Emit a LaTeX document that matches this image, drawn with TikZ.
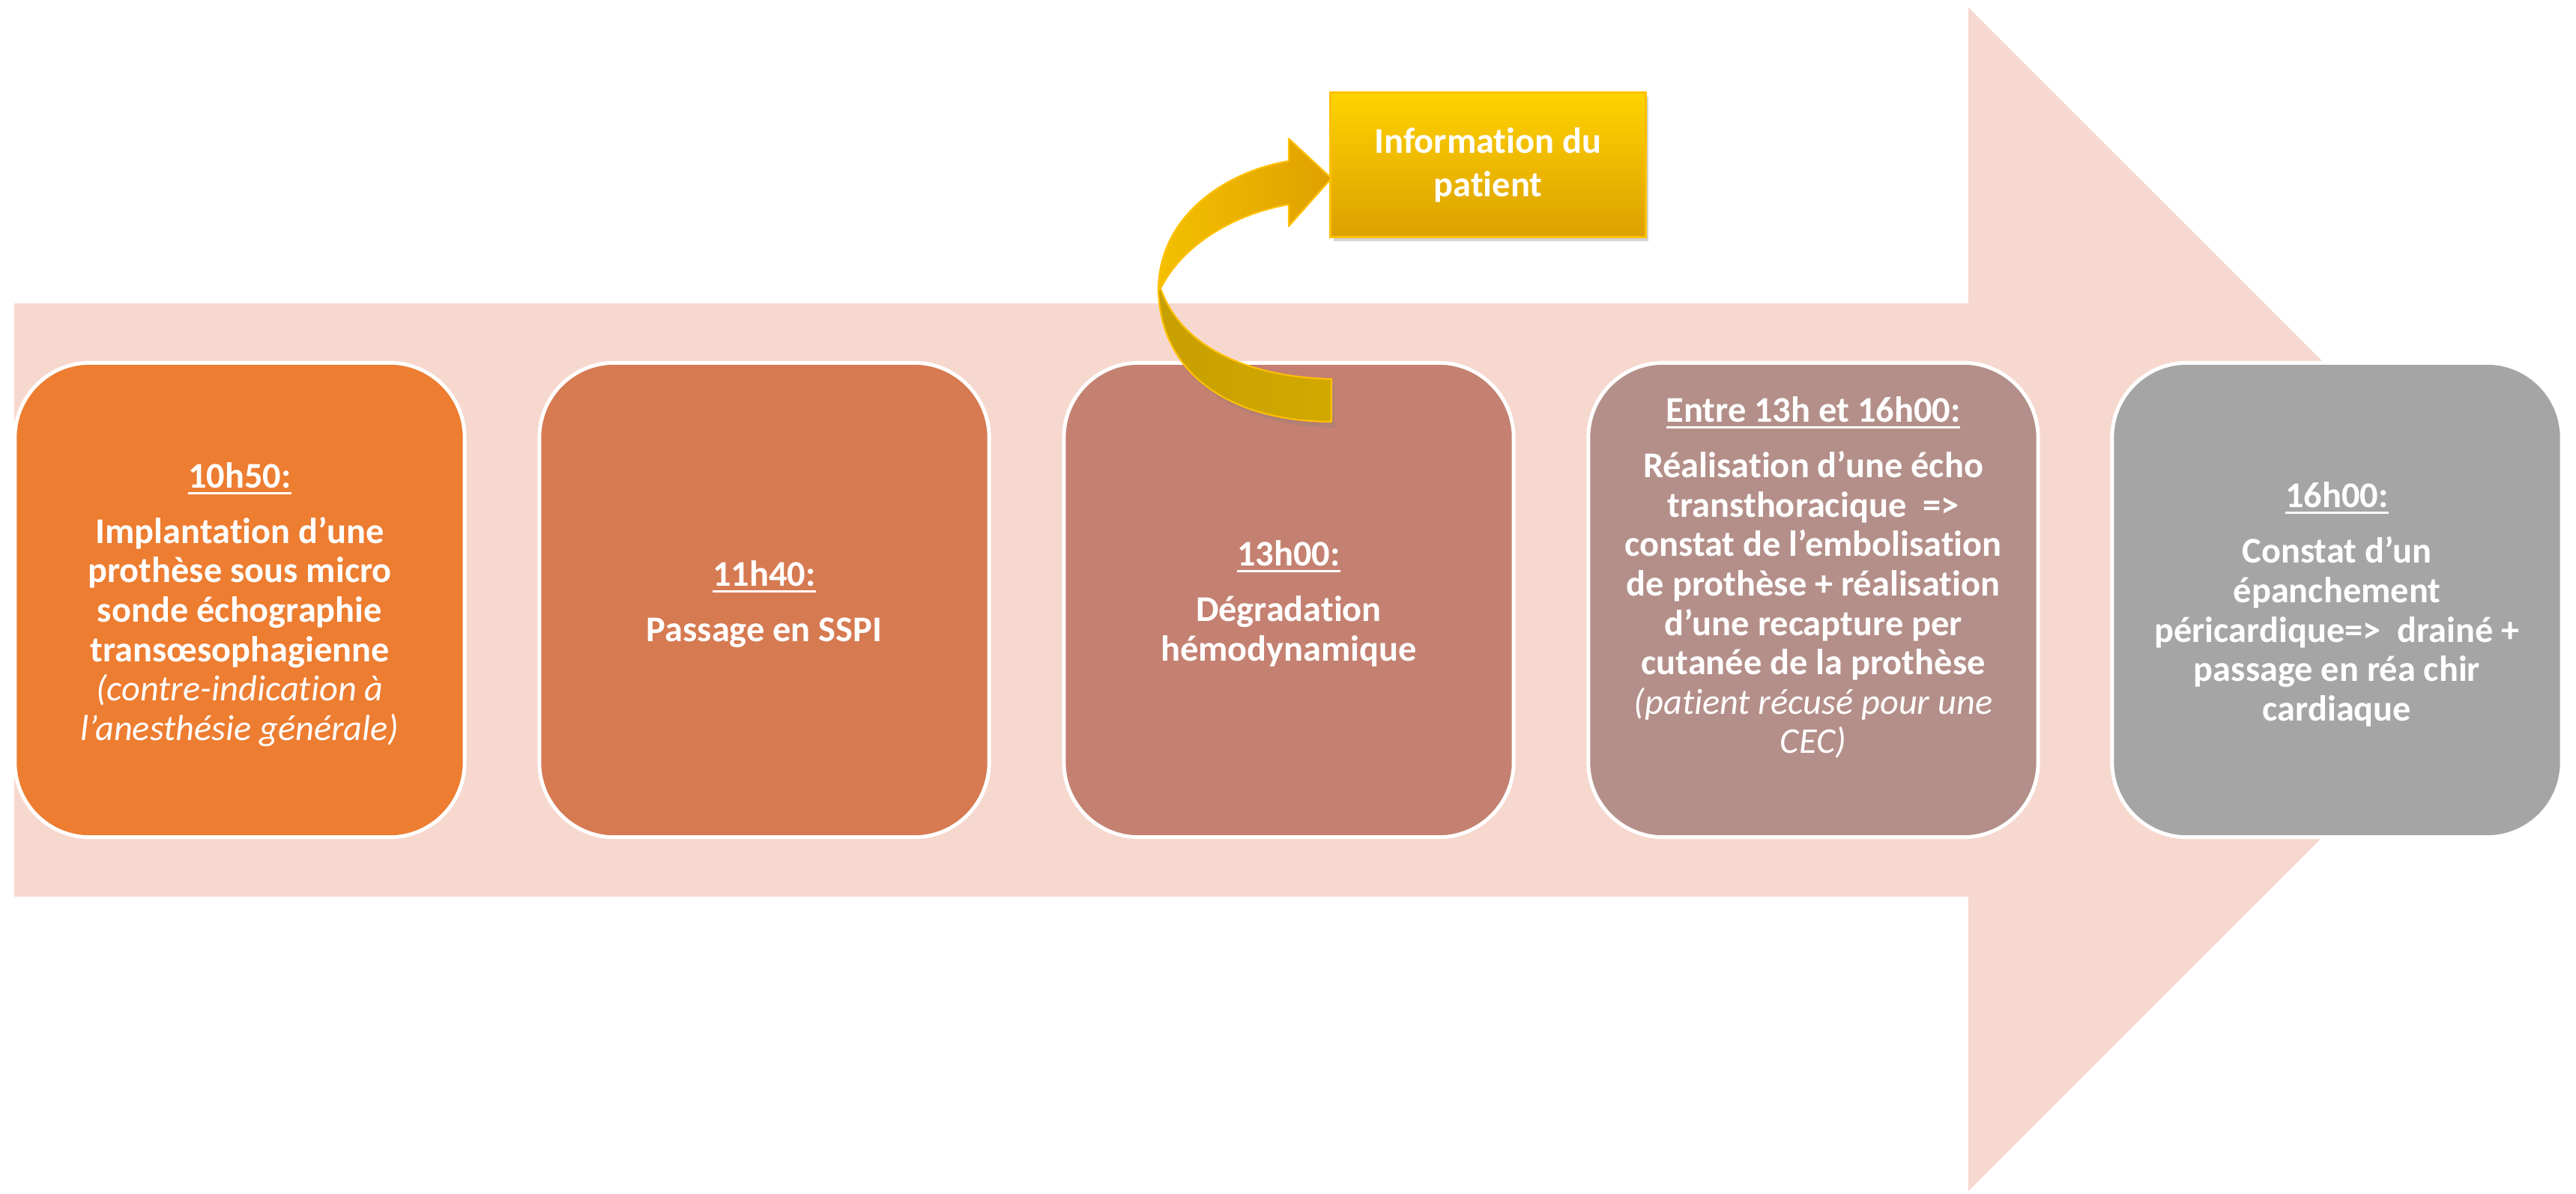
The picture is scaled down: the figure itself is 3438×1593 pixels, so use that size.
\documentclass[tikz,border=0pt]{standalone}
\usepackage{fontspec}
\setmainfont{Carlito}[Ligatures=TeX, RawFeature={-liga;-clig;-dlig;-calt}]
\usetikzlibrary{shadows,calc}

% palette
\definecolor{arrowpink}{HTML}{F7D8CE}
\definecolor{stepA}{HTML}{ED7D31}
\definecolor{stepB}{HTML}{D67A52}
\definecolor{stepC}{HTML}{C48171}
\definecolor{stepD}{HTML}{B48F89}
\definecolor{stepE}{HTML}{A5A5A5}
\definecolor{goldtop}{HTML}{FFD200}
\definecolor{goldbot}{HTML}{DCA000}
\definecolor{goldline}{HTML}{FFC000}
\definecolor{bandlight}{HTML}{F4C000}
\definecolor{banddark}{HTML}{DFA000}
\definecolor{backleft}{HTML}{C79F00}
\definecolor{backright}{HTML}{D2A900}

% underlined time stamp
\newcommand{\heure}[1]{{\setbox0=\hbox{#1}\rlap{\rule[-2.4pt]{\wd0}{0.85pt}}\box0}}
\newcommand{\remarque}[1]{{\mdseries\itshape #1}}

\tikzset{
  stepbox/.style={draw=white, line width=1.4pt, rounded corners=1cm,
                  minimum width=6cm, minimum height=6.33cm, inner sep=0pt},
  steptext/.style={text=white, align=center, inner sep=0pt,
                   font=\fontsize{13.75pt}{14.97pt}\selectfont\bfseries},
  infobox/.style={draw=goldline, line width=0.8pt, top color=goldtop, bottom color=goldbot,
                  minimum width=4.2cm, minimum height=1.93cm, inner sep=0pt,
                  text=white, align=center,
                  font=\fontsize{13.75pt}{16.5pt}\selectfont\bfseries,
                  drop shadow={shadow xshift=1.2pt, shadow yshift=-1.5pt, opacity=0.35}},
  bandedge/.style={draw=goldline, line width=0.6pt, line join=round},
}

\begin{document}
\begin{tikzpicture}[x=0.01cm, y=-0.01cm]
  \useasboundingbox (0,0) rectangle (3438,1593);

  % large timeline arrow
  \fill[arrowpink] (19,405) -- (2627,405) -- (2627,10) -- (3417,800)
        -- (2627,1590) -- (2627,1197) -- (19,1197) -- cycle;

  % steps
  \node[stepbox, fill=stepA] (b1) at (320,801) {};
  \node[stepbox, fill=stepB] (b2) at (1020,801) {};
  \node[stepbox, fill=stepC] (b3) at (1720,801) {};
  \node[stepbox, fill=stepD] (b4) at (2420,801) {};
  \node[stepbox, fill=stepE] (b5) at (3119,801) {};

  \node[steptext] (t1) at (320,807) {\heure{10h50:}\\[6.1pt]
      Implantation d’une\\prothèse sous micro\\sonde échographie\\transœsophagienne\\
      \remarque{(contre-indication à}\\\remarque{l’anesthésie générale)}};
  \node[steptext] (t2) at (1020,807) {\heure{11h40:}\\[6.1pt]Passage en SSPI};
  \node[steptext] (t3) at (1720,806) {\heure{13h00:}\\[6.1pt]Dégradation\\hémodynamique};
  \node[steptext] (t4) at (2420,771) {\heure{Entre 13h et 16h00:}\\[6.1pt]
      Réalisation d’une écho\\transthoracique\ \ =>\\constat de l’embolisation\\
      de prothèse + réalisation\\d’une recapture per\\cutanée de la prothèse\\
      \remarque{(patient récusé pour une}\\\remarque{CEC)}};
  \node[steptext] (t5) at (3119,807) {\heure{16h00:}\\[6.1pt]
      Constat d’un\\épanchement\\péricardique=>\ \ drainé +\\passage en réa chir\\cardiaque};

  % information box
  \node[infobox] (info) at (1986,220) {Information du\\patient};

  % curved arrow from the 13h00 step up to the information box
  \coordinate (tail) at (1777,535);
  \coordinate (tip) at (1777,238);
  % soft shadow under the back face
  \fill[gray, opacity=0.25] (1550,392) .. controls (1550,495) and (1634,568) .. (1781,571)
        -- (1781,514) .. controls (1664,511) and (1579,468) .. (1553,394) -- cycle;
  % back face (lower part)
  \path[bandedge, left color=backleft, right color=backright]
        (1546,383) .. controls (1546,490) and (1630,562) .. ($(tail)+(0,28)$)
        -- ($(tail)+(0,-29)$) .. controls (1660,503) and (1575,460) .. (1549,385) -- cycle;
  % front face (upper part) with head
  \path[bandedge, left color=bandlight, right color=banddark]
        (1546,385) .. controls (1548,285) and (1640,228) .. (1720,215)
        -- (1720,185) -- (tip) -- (1720,302) -- (1720,273)
        .. controls (1650,285) and (1578,325) .. (1548,387) -- cycle;
\end{tikzpicture}
\end{document}
